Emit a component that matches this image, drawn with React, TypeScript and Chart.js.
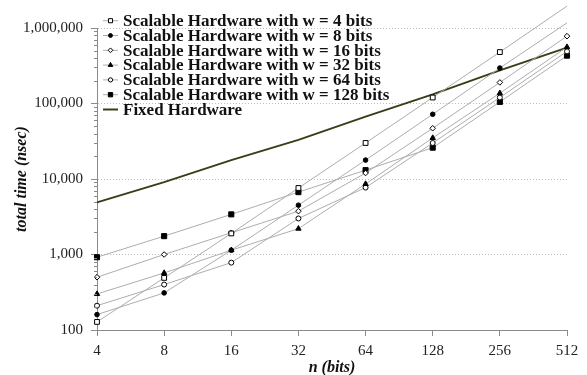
import React, { useEffect, useRef } from 'react';
import { Chart, registerables } from 'chart.js';
import { drawPoint } from 'chart.js/helpers';

Chart.register(...registerables);

const nLabels = ['4', '8', '16', '32', '64', '128', '256', '512'];
const w4 = [128, 490, 1900, 7600, 30000, 120000, 480000, 1950000];
const w8 = [160, 310, 1140, 4500, 17800, 72000, 295000, 1170000];
const w16 = [500, 1000, 1940, 3750, 12000, 47000, 190000, 780000];
const w32 = [300, 570, 1140, 2200, 8600, 35000, 137000, 560000];
const w64 = [210, 400, 780, 3000, 7700, 30000, 120000, 490000];
const w128 = [920, 1750, 3400, 6700, 13100, 26000, 105000, 430000];
const fixedHw = [4900, 9100, 17800, 33000, 67000, 132000, 275000, 550000];
const yTickValues = [100, 1000, 10000, 100000, 1000000];
const seriesNames = [
  'Scalable Hardware with w = 4 bits',
  'Scalable Hardware with w = 8 bits',
  'Scalable Hardware with w = 16 bits',
  'Scalable Hardware with w = 32 bits',
  'Scalable Hardware with w = 64 bits',
  'Scalable Hardware with w = 128 bits',
  'Fixed Hardware',
];

const SERIF = '"Liberation Serif", "Times New Roman", serif';
const LINE_GRAY = '#adadad';
const FIXED_COLOR = '#3c3c18';
const AXIS_GRAY = '#8a8a8a';

const legendPlugin = {
  id: 'lineLegend',
  afterDatasetsDraw(chart: any) {
    const ctx = chart.ctx;
    const left = chart.chartArea.left;
    ctx.save();
    chart.data.datasets.forEach((ds: any, i: number) => {
      const y = 20.7 + i * 14.8;
      const x0 = left + 6;
      const x1 = left + 21;
      ctx.beginPath();
      ctx.strokeStyle = ds.borderColor;
      ctx.lineWidth = ds.borderWidth;
      ctx.moveTo(x0, y);
      ctx.lineTo(x1, y);
      ctx.stroke();
      if (ds.pointRadius > 0) {
        ctx.fillStyle = ds.pointBackgroundColor;
        ctx.strokeStyle = ds.pointBorderColor;
        ctx.lineWidth = 1;
        drawPoint(ctx, { pointStyle: ds.pointStyle, radius: ds.pointRadius * 0.85, borderWidth: 1, rotation: 0 } as any, (x0 + x1) / 2, y);
      }
      ctx.fillStyle = '#111';
      ctx.font = `bold 17px ${SERIF}`;
      ctx.textBaseline = 'middle';
      ctx.textAlign = 'left';
      ctx.fillText(ds.label, left + 26, y + 1);
    });
    ctx.restore();
  },
};

const minorTickPlugin = {
  id: 'minorTicks',
  afterDraw(chart: any) {
    const ys = chart.scales.y;
    const ctx = chart.ctx;
    const x = chart.chartArea.left;
    ctx.save();
    ctx.strokeStyle = AXIS_GRAY;
    ctx.lineWidth = 1;
    for (let d = 100; d < 1000000; d *= 10) {
      for (let m = 2; m <= 9; m++) {
        const y = Math.round(ys.getPixelForValue(d * m)) + 0.5;
        ctx.beginPath();
        ctx.moveTo(x - 3, y);
        ctx.lineTo(x, y);
        ctx.stroke();
      }
    }
    ctx.restore();
  },
};

function series(label: string, data: number[], style: string, filled: boolean, radius: number) {
  return {
    label,
    data,
    borderColor: LINE_GRAY,
    borderWidth: 1,
    pointStyle: style,
    pointRadius: radius,
    pointBorderWidth: 1,
    pointBorderColor: '#000',
    pointBackgroundColor: filled ? '#000' : '#fff',
    clip: false,
    tension: 0,
  };
}

export default function App() {
  const ref = useRef<HTMLCanvasElement | null>(null);
  useEffect(() => {
    if (!ref.current) return;
    const chart = new Chart(ref.current, {
      type: 'line',
      data: {
        labels: nLabels,
        datasets: [
          series(seriesNames[0], w4, 'rect', false, 3.4),
          series(seriesNames[1], w8, 'circle', true, 2.3),
          series(seriesNames[2], w16, 'rectRot', false, 2.8),
          series(seriesNames[3], w32, 'triangle', true, 3.1),
          series(seriesNames[4], w64, 'circle', false, 2.5),
          series(seriesNames[5], w128, 'rect', true, 3.6),
          {
            label: seriesNames[6],
            data: fixedHw,
            borderColor: FIXED_COLOR,
            borderWidth: 2,
            pointRadius: 0,
            pointStyle: 'circle',
            pointBackgroundColor: FIXED_COLOR,
            pointBorderColor: FIXED_COLOR,
            clip: false,
            tension: 0,
          } as any,
        ],
      },
      options: {
        animation: false,
        responsive: true,
        maintainAspectRatio: false,
        layout: { padding: { top: 28, right: 20, left: 0, bottom: 0 } },
        plugins: {
          legend: { display: false },
          tooltip: { enabled: false },
        },
        scales: {
          x: {
            type: 'category',
            offset: false,
            afterFit: (s: any) => { s.height = 45; },
            border: { color: AXIS_GRAY, width: 1 },
            grid: { drawOnChartArea: false, drawTicks: true, tickLength: 6, color: AXIS_GRAY },
            ticks: { color: '#222', font: { family: SERIF, size: 15 }, padding: 6, maxRotation: 0 },
            title: {
              display: true,
              text: 'n (bits)',
              color: '#111',
              font: { family: SERIF, size: 16, weight: 'bold', style: 'italic' },
              padding: { top: 0, bottom: -2 },
            },
          },
          y: {
            type: 'logarithmic',
            min: 100,
            max: 1000000,
            afterFit: (s: any) => { s.width = 97; },
            afterBuildTicks: (s: any) => { s.ticks = yTickValues.map((v) => ({ value: v, major: true })); },
            border: { color: AXIS_GRAY, width: 1, dash: [1, 2] },
            grid: {
              drawTicks: true,
              tickLength: 6,
              tickColor: AXIS_GRAY,
              color: (c: any) => (c.tick && c.tick.value === 100 ? 'rgba(0,0,0,0)' : '#bdbdbd'),
              tickBorderDash: [],
            } as any,
            ticks: {
              color: '#222',
              font: { family: SERIF, size: 15 },
              padding: 8,
              callback: (v: any) => Number(v).toLocaleString('en-US'),
            },
            title: {
              display: true,
              text: 'total time (nsec)',
              color: '#111',
              font: { family: SERIF, size: 16, weight: 'bold', style: 'italic' },
              padding: { top: 12, bottom: 0 },
            },
          },
        },
      },
      plugins: [legendPlugin, minorTickPlugin],
    } as any);
    return () => chart.destroy();
  }, []);
  return (
    <div style={{ position: 'fixed', left: 0, top: 0, width: 587, height: 375, background: '#fff' }}>
      <canvas ref={ref} />
    </div>
  );
}
